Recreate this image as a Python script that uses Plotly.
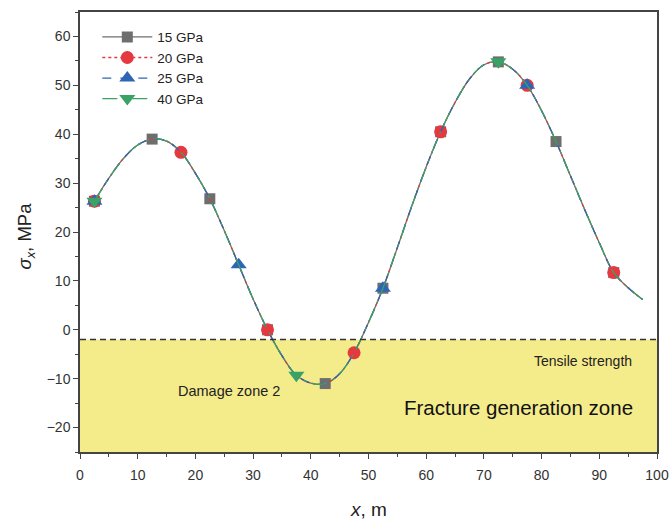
import plotly.graph_objects as go

# Curve sampled every 2.5 m
x_grid = [2.5, 5, 7.5, 10, 12.5, 15, 17.5, 20, 22.5, 25, 27.5, 30, 32.5, 35, 37.5, 40,
          42.5, 45, 47.5, 50, 52.5, 55, 57.5, 60, 62.5, 65, 67.5, 70, 72.5, 75, 77.5,
          80, 82.5, 85, 87.5, 90, 92.5, 95, 97.5]
sigma_x = [26.3, 31.0, 35.0, 37.8, 39.0, 38.6, 36.3, 32.0, 26.8, 20.3, 13.3, 6.3, 0.0,
           -5.3, -9.3, -10.9, -11.0, -9.0, -4.7, 1.5, 8.5, 16.8, 25.3, 33.3, 40.5, 46.5,
           51.3, 54.2, 54.8, 53.3, 50.0, 44.8, 38.5, 31.5, 24.5, 17.8, 11.7, 8.6, 6.2]

series_names = ["15 GPa", "20 GPa", "25 GPa", "40 GPa"]
marker_x = {
    "15 GPa": [2.5, 12.5, 22.5, 32.5, 42.5, 52.5, 62.5, 72.5, 82.5, 92.5],
    "20 GPa": [2.5, 17.5, 32.5, 47.5, 62.5, 77.5, 92.5],
    "25 GPa": [2.5, 27.5, 52.5, 77.5],
    "40 GPa": [2.5, 37.5, 72.5],
}
tensile_strength = -2

colors = {"15 GPa": "#6e6e6e", "20 GPa": "#e5383f", "25 GPa": "#2f65b5", "40 GPa": "#3aa167"}
dashes = {"15 GPa": "solid", "20 GPa": "dot", "25 GPa": "dash", "40 GPa": "longdashdot"}
symbols = {"15 GPa": "square", "20 GPa": "circle", "25 GPa": "triangle-up", "40 GPa": "triangle-down"}
msizes = {"15 GPa": 11, "20 GPa": 13, "25 GPa": 14, "40 GPa": 14}

FONT = "Liberation Sans, Arial, sans-serif"
fig = go.Figure()

for name in series_names:
    fig.add_trace(go.Scatter(x=x_grid, y=sigma_x, mode="lines", line_shape="spline",
                             line=dict(color=colors[name], width=1.3, dash=dashes[name]),
                             showlegend=False, hoverinfo="skip"))
    mx = marker_x[name]
    my = [sigma_x[x_grid.index(v)] for v in mx]
    fig.add_trace(go.Scatter(x=mx, y=my, mode="markers",
                             marker=dict(symbol=symbols[name], size=msizes[name], color=colors[name],
                                         line=dict(width=0)),
                             showlegend=False))

for name in series_names:
    fig.add_trace(go.Scatter(x=[None], y=[None], mode="lines+markers", name=name,
                             line=dict(color=colors[name], width=1.3, dash=dashes[name]),
                             marker=dict(symbol=symbols[name], size=msizes[name], color=colors[name],
                                         line=dict(width=0))))

fig.add_shape(type="rect", xref="x", yref="y", x0=0, x1=100, y0=-25, y1=tensile_strength,
              fillcolor="#f4eb8b", line=dict(width=0), layer="below")
fig.add_shape(type="line", xref="x", yref="y", x0=0, x1=100, y0=tensile_strength, y1=tensile_strength,
              line=dict(color="#333333", width=1.5, dash="6px,4px"), layer="above")

fig.add_annotation(x=87.2, y=-6.3, text="Tensile strength", showarrow=False,
                   font=dict(family=FONT, size=14, color="#222222"))
fig.add_annotation(x=25.8, y=-12.45, text="Damage zone 2", showarrow=False,
                   font=dict(family=FONT, size=14.5, color="#222222"))
fig.add_annotation(x=76.0, y=-15.9, text="Fracture generation zone", showarrow=False,
                   font=dict(family=FONT, size=20.5, color="#111111"))

# axis titles
fig.add_annotation(xref="paper", yref="paper", x=0.5, y=-0.1305, xanchor="center", yanchor="middle",
                   text="<i>x</i>, m",
                   showarrow=False, font=dict(family=FONT, size=19, color="#222222"))
fig.add_annotation(xref="paper", yref="paper", x=-0.0936, y=0.492, xanchor="center", yanchor="middle",
                   textangle=-90, text="<i>σ</i><sub><i>x</i></sub>, MPa",
                   showarrow=False, font=dict(family=FONT, size=18.5, color="#222222"))

axis_common = dict(showline=True, linecolor="#444444", linewidth=1.5, mirror=True,
                   ticks="outside", ticklen=5, tickwidth=1.2, tickcolor="#444444",
                   showgrid=False, zeroline=False, automargin=False,
                   tickfont=dict(family=FONT, size=14, color="#333333"))

fig.update_xaxes(range=[0, 100], dtick=10, tick0=0, ticklabelstandoff=4,
                 minor=dict(dtick=5, ticks="outside", ticklen=3, tickcolor="#444444"),
                 **axis_common)
fig.update_yaxes(range=[-25, 65], dtick=10, tick0=0,
                 minor=dict(dtick=5, ticks="outside", ticklen=3, tickcolor="#444444"),
                 **axis_common)

fig.update_layout(width=669, height=520, margin=dict(l=80, r=12, t=12, b=68),
                  plot_bgcolor="white", paper_bgcolor="white",
                  legend=dict(x=0.03, y=0.978, xanchor="left", yanchor="top", itemwidth=50,
                              bgcolor="rgba(0,0,0,0)", font=dict(family=FONT, size=13.5, color="#222222"),
                              tracegroupgap=0),
                  showlegend=True)

fig.write_html("out.html")
